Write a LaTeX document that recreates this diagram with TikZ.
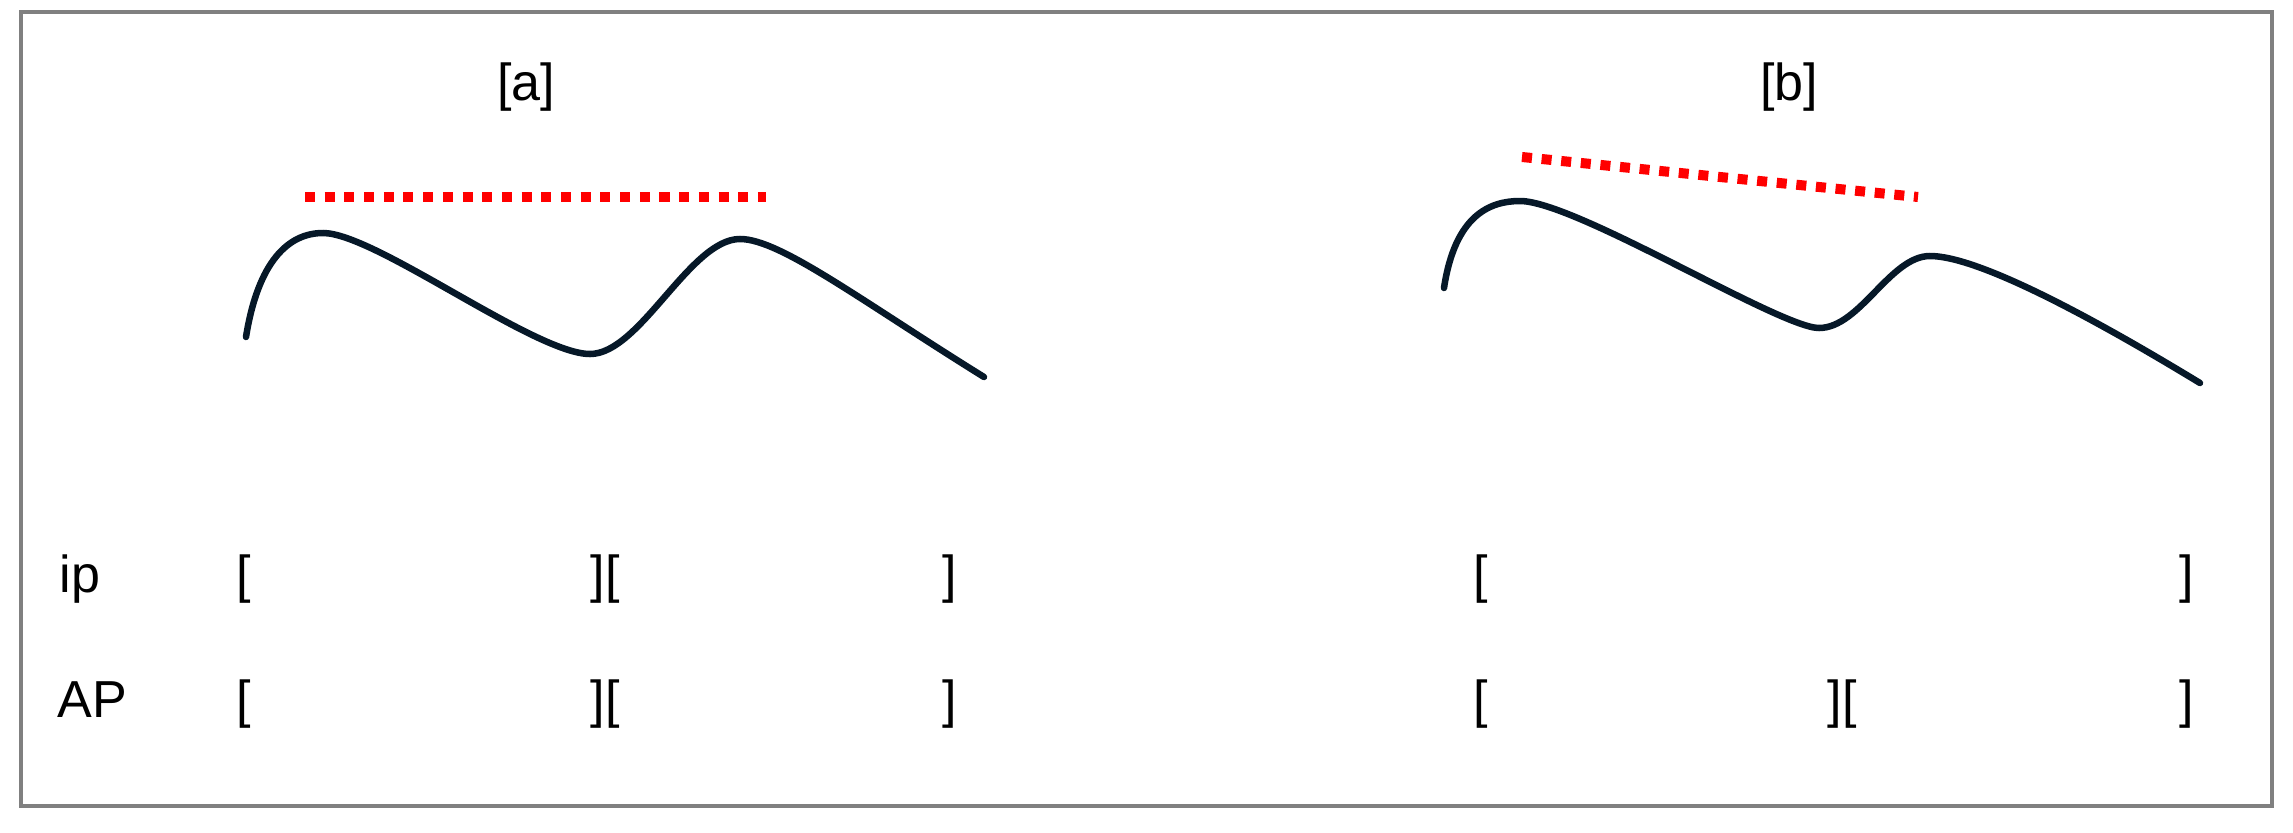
\documentclass[tikz,border=0pt]{standalone}
\usepackage{fontspec}
\setmainfont{Liberation Sans}
\definecolor{curvecol}{RGB}{6,24,40}
\definecolor{framecol}{RGB}{128,128,128}
\definecolor{dotred}{RGB}{255,0,0}
\begin{document}
\begin{tikzpicture}[x=0.01cm,y=-0.01cm,
  txt/.style={inner sep=0pt,anchor=base,font=\fontsize{14.8}{17}\selectfont},
  lbl/.style={txt,anchor=base west},
  redline/.style={draw=dotred,line width=2.85pt,dash pattern=on 2.85pt off 2.75pt},
  contour/.style={draw=curvecol,line width=1.85pt,line cap=round},
  frame/.style={draw=framecol,line width=0.9pt}]
\useasboundingbox (0,0) rectangle (2293,833);
\draw[frame] (21,12) rectangle (2272,806);
% titles
\node[txt] (ta) at (526,100) {[a]};
\node[txt] (tb) at (1789,100) {[b]};
% red lines
\coordinate (ra1) at (305,197);
\coordinate (ra2) at (766,197);
\coordinate (rb1) at (1522,157);
\coordinate (rb2) at (1918,197);
\draw[redline] (ra1) -- (ra2);
\draw[redline] (rb1) -- (rb2);
% curve a
\draw[contour] (246,337) .. controls (258,262) and (288,233) .. (323,233)
  .. controls (375,233) and (535,354) .. (590,354)
  .. controls (640,354) and (690,239) .. (740,239)
  .. controls (780,239) and (860,300) .. (984,377);
% curve b
\draw[contour] (1444,288) .. controls (1455,215) and (1490,201) .. (1520,201)
  .. controls (1575,201) and (1780,328) .. (1819,328)
  .. controls (1860,328) and (1890,256) .. (1930,256)
  .. controls (1975,256) and (2080,310) .. (2200,383);
% row labels
\node[lbl] (ip) at (59,592) {ip};
\node[lbl] (ap) at (57,717) {AP};
% ip row
\node[txt] (ip1) at (244,592) {[};
\node[txt] (ip2) at (605,592) {][};
\node[txt] (ip3) at (950,592) {]};
\node[txt] (ip4) at (1481,592) {[};
\node[txt] (ip5) at (2187,592) {]};
% AP row
\node[txt] (ap1) at (244,717) {[};
\node[txt] (ap2) at (605,717) {][};
\node[txt] (ap3) at (950,717) {]};
\node[txt] (ap4) at (1481,717) {[};
\node[txt] (ap5) at (1842,717) {][};
\node[txt] (ap6) at (2187,717) {]};
\end{tikzpicture}
\end{document}
